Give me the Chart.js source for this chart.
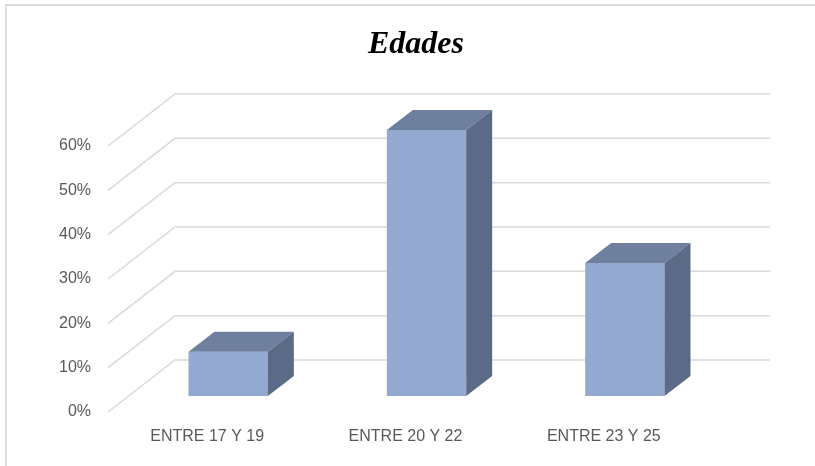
<!DOCTYPE html>
<html>
<head>
<meta charset="utf-8">
<script src="https://cdn.jsdelivr.net/npm/chart.js@4/dist/chart.umd.min.js"></script>
<style>
  body { margin: 0; background: #fff; }
  #wrap { width: 815px; height: 466px; }
</style>
</head>
<body>
<div id="wrap"><canvas id="myChart" width="815" height="466"></canvas></div>
<script>
// data
const categorias = ['ENTRE 17 Y 19', 'ENTRE 20 Y 22', 'ENTRE 23 Y 25'];
const porcentajes = [10, 60, 30];
const titulo = 'Edades';
const yMax = 60;
const yStep = 10;

const ctx = document.getElementById('myChart').getContext('2d');

// depth offsets from the bar plane
const backDx = 46, backDy = -36;
const frontDx = -21, frontDy = 16;
const barDx = 26, barDy = -20;

const gridColor = '#d9d9d9';

// frame, title + 3d walls
const walls = {
    id: 'walls',
    beforeDraw(chart) {
        const c = chart.ctx;
        c.save();
        c.fillStyle = '#fff';
        c.fillRect(0, 0, chart.width, chart.height);
        c.strokeStyle = '#dcdcdc';
        c.lineWidth = 2;
        c.beginPath();
        c.moveTo(6, chart.height);
        c.lineTo(6, 5);
        c.lineTo(chart.width, 5);
        c.stroke();
        // title centred on the whole picture
        c.fillStyle = '#000';
        c.font = 'italic bold 32px "Liberation Serif"';
        c.textAlign = 'center';
        c.textBaseline = 'alphabetic';
        c.fillText(titulo, 416, 53);
        c.restore();
    },
    beforeDatasetsDraw(chart) {
        const c = chart.ctx;
        const area = chart.chartArea;
        const y = chart.scales.y;
        c.save();
        c.strokeStyle = gridColor;
        c.lineWidth = 1.5;
        y.ticks.forEach(t => {
            const py = y.getPixelForValue(t.value);
            c.beginPath();
            c.moveTo(area.left + frontDx, py + frontDy);
            c.lineTo(area.left + backDx, py + backDy);
            c.lineTo(area.right + backDx, py + backDy);
            c.stroke();
        });
        c.restore();
    },
    afterDatasetsDraw(chart) {
        const c = chart.ctx;
        const meta = chart.getDatasetMeta(0);
        c.save();
        meta.data.forEach(bar => {
            const p = bar.getProps(['x', 'y', 'base', 'width'], true);
            const l = p.x - p.width / 2;
            const r = p.x + p.width / 2;
            //top
            c.fillStyle = '#6f7f9e';
            c.beginPath();
            c.moveTo(l, p.y);
            c.lineTo(r, p.y);
            c.lineTo(r + barDx, p.y + barDy);
            c.lineTo(l + barDx, p.y + barDy);
            c.closePath();
            c.fill();
            //side
            c.fillStyle = '#5b6a86';
            c.beginPath();
            c.moveTo(r, p.y);
            c.lineTo(r + barDx, p.y + barDy);
            c.lineTo(r + barDx, p.base + barDy);
            c.lineTo(r, p.base);
            c.closePath();
            c.fill();
        });
        c.restore();
    }
};

//Setup
const data = {
    labels: categorias,
    datasets: [{
        label: titulo,
        data: porcentajes,
        backgroundColor: '#94a9d0',
        borderWidth: 0,
        barPercentage: 0.4,
        categoryPercentage: 1.0
    }]
};

//Config
const config = {
    type: 'bar',
    data,
    plugins: [walls],
    options: {
        responsive: false,
        animation: false,
        layout: {
            padding: { left: 0, right: 91, top: 130, bottom: 20 }
        },
        plugins: {
            legend: { display: false },
            tooltip: { enabled: false },
            title: { display: false }
        },
        scales: {
            x: {
                grid: { display: false, drawTicks: false },
                border: { display: false },
                ticks: {
                    color: '#595959',
                    font: { family: 'Liberation Sans', size: 16 },
                    padding: 31,
                    labelOffset: frontDx
                },
                afterFit(scale) { scale.height = 50; }
            },
            y: {
                min: 0,
                max: yMax,
                grid: { display: false, drawTicks: false },
                border: { display: false },
                ticks: {
                    stepSize: yStep,
                    color: '#595959',
                    font: { family: 'Liberation Sans', size: 16 },
                    padding: 38,
                    labelOffset: frontDy,
                    callback: v => v + '%'
                },
                afterFit(scale) { scale.width = 129; }
            }
        }
    }
};

//Init
let myChart = new Chart(ctx, config);
</script>
</body>
</html>
